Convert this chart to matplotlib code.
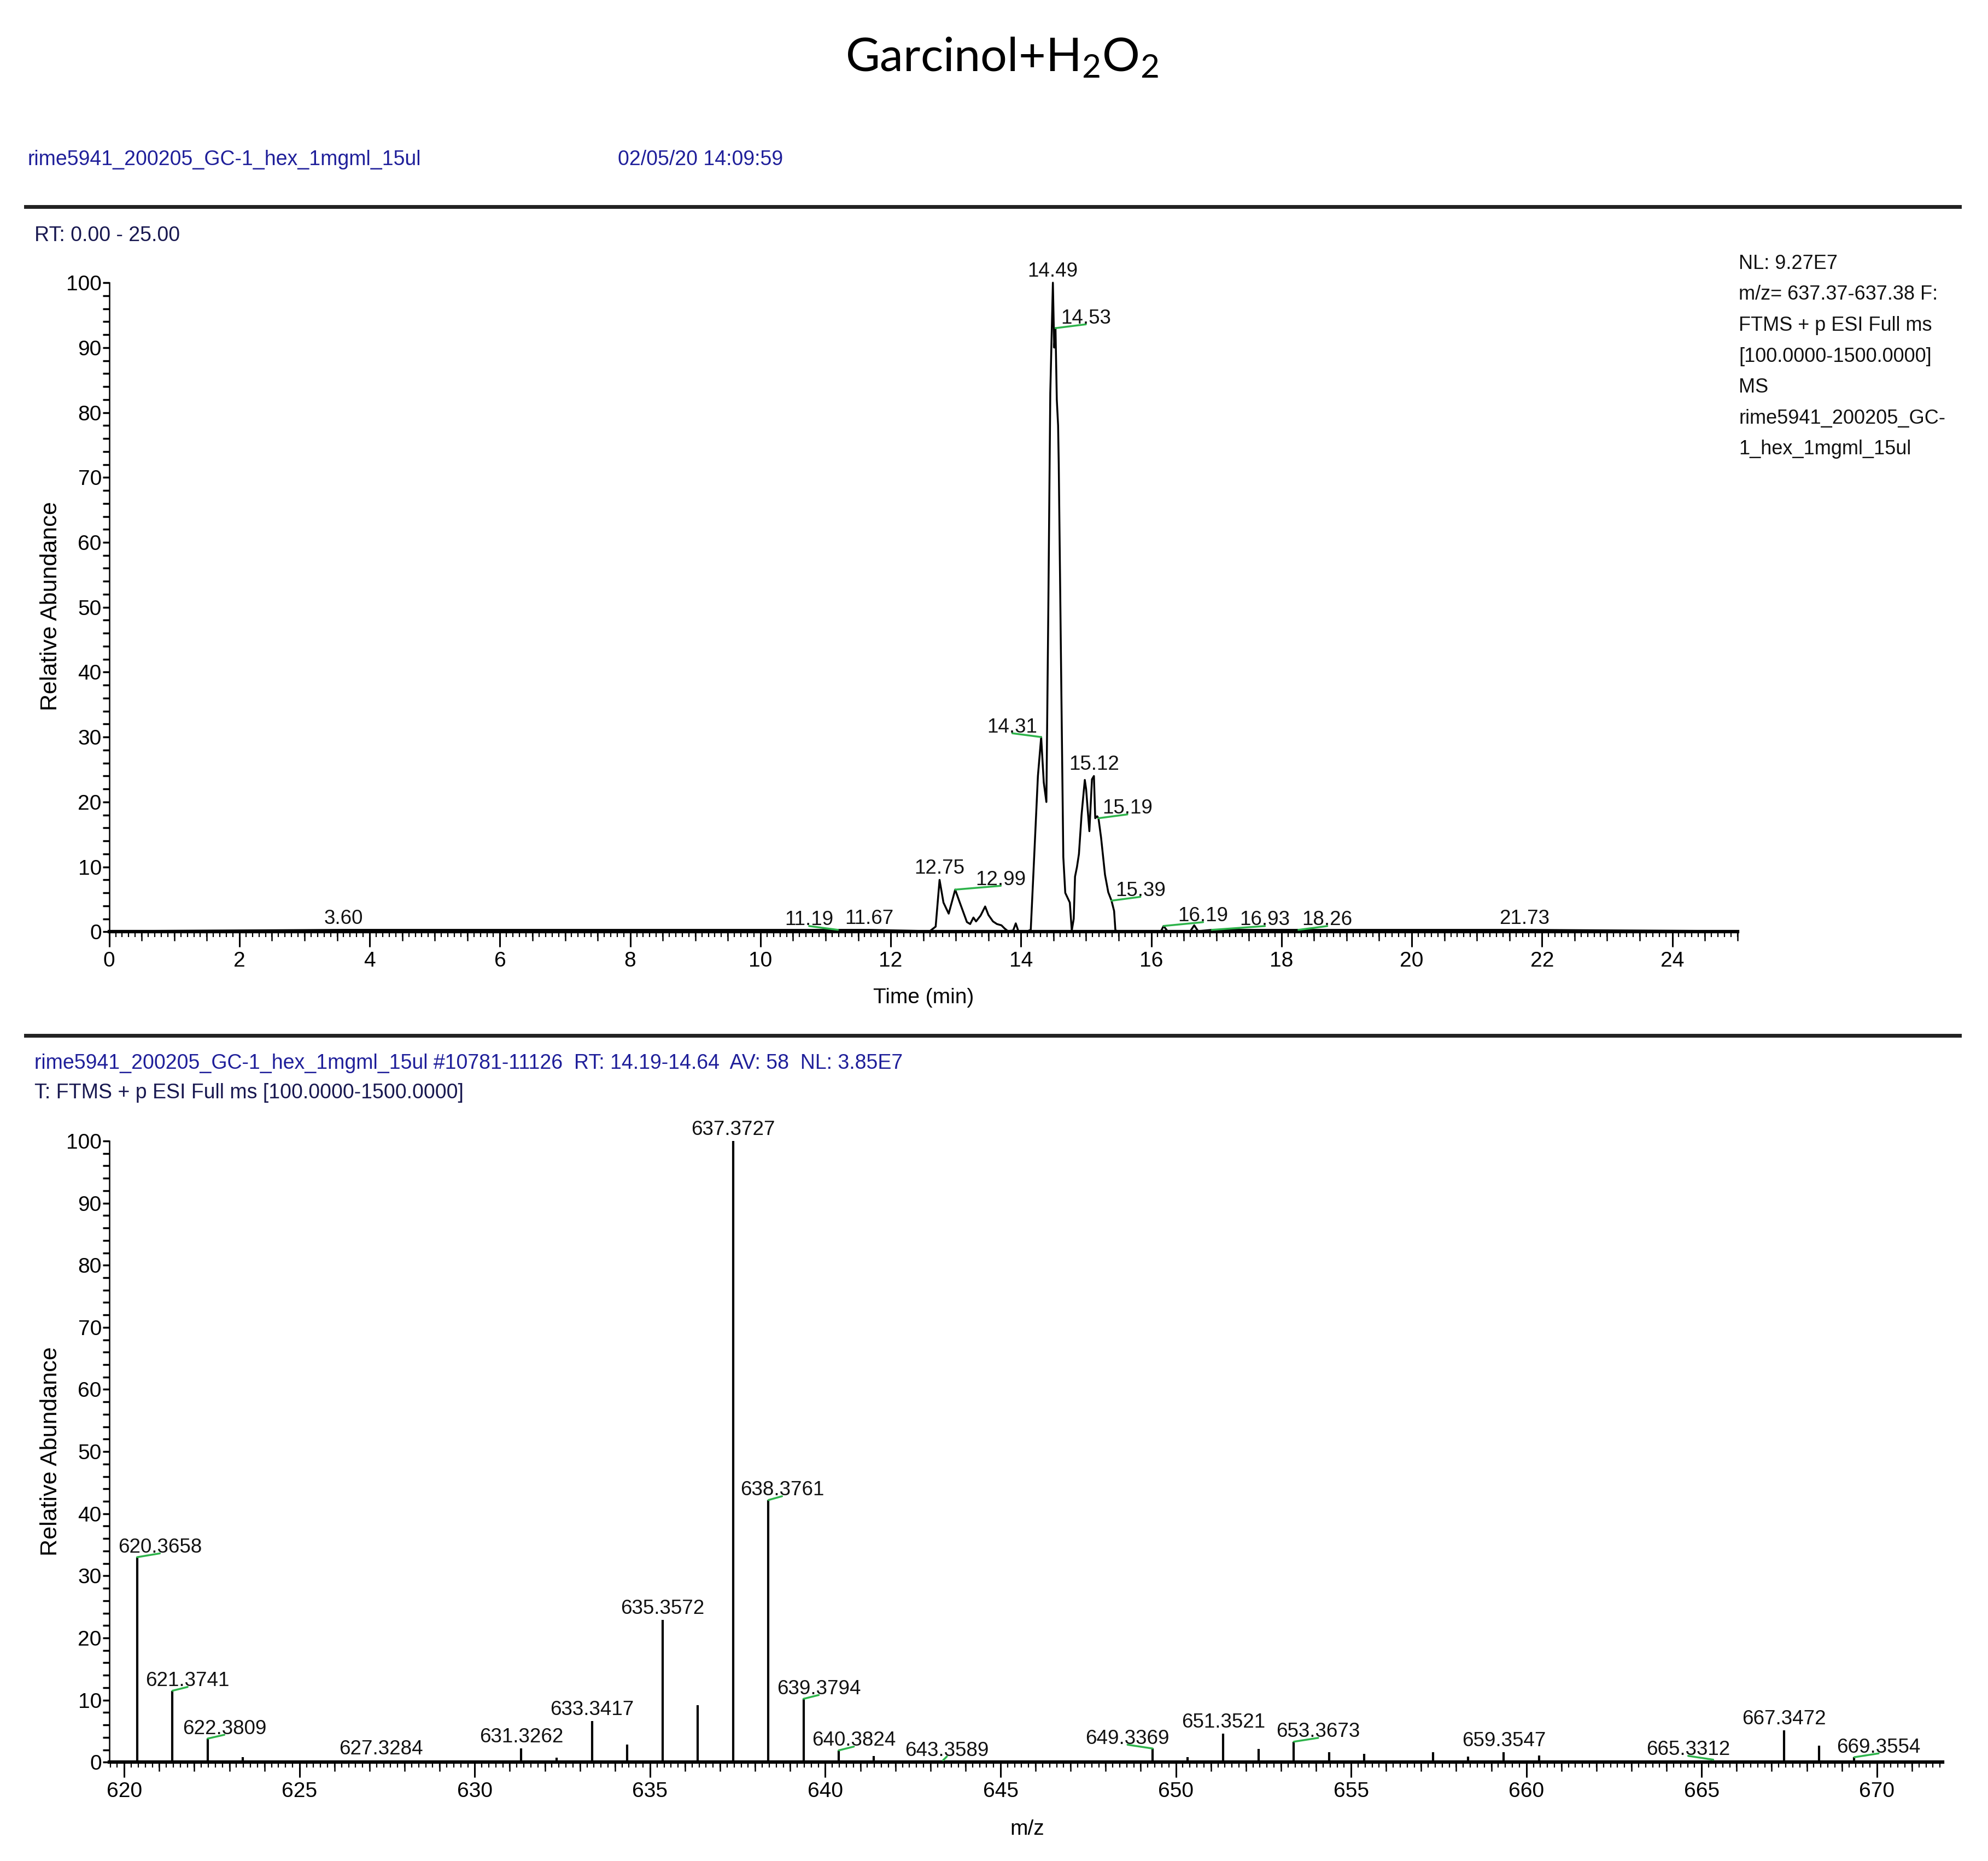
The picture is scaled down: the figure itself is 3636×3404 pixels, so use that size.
import matplotlib
matplotlib.use("Agg")
import matplotlib.pyplot as plt
from matplotlib.ticker import MultipleLocator, NullLocator

NARROW = ['Liberation Sans Narrow', 'Liberation Sans', 'DejaVu Sans']
plt.rcParams['font.family'] = NARROW
plt.rcParams['mathtext.fontset'] = 'custom'
plt.rcParams['mathtext.rm'] = 'Lato'
plt.rcParams['mathtext.it'] = 'Lato:italic'

BLUE = '#1f1f9a'
DARKBLUE = '#181850'
GREEN = '#2db34a'
FS_TICK = 28
FS_LAB = 26.5
FS_HEAD = 27

# chromatogram (RT in min, relative abundance)
tic_rt = [0.00, 3.60, 11.19, 11.67, 12.60, 12.69, 12.75, 12.81, 12.89, 12.95, 12.99, 13.05,
          13.17, 13.22, 13.27, 13.31, 13.38, 13.45, 13.50, 13.57, 13.63, 13.70, 13.75, 13.80,
          13.88, 13.92, 13.96, 14.10, 14.15, 14.19, 14.26, 14.31, 14.35, 14.39, 14.42, 14.45,
          14.49, 14.51, 14.53, 14.55, 14.57, 14.58, 14.62, 14.65, 14.68, 14.75, 14.78, 14.81,
          14.83, 14.86, 14.89, 14.93, 14.98, 15.00, 15.05, 15.09, 15.12, 15.14, 15.17, 15.19,
          15.23, 15.29, 15.34, 15.39, 15.43, 15.45, 15.50, 16.15, 16.19, 16.25, 16.60, 16.66,
          16.72, 16.93, 18.26, 21.73, 25.00]
tic_int = [0.1, 0.3, 0.3, 0.3, 0.1, 0.8, 8.0, 4.5, 2.8, 5.0, 6.5, 4.8,
           1.5, 1.2, 2.2, 1.6, 2.5, 3.9, 2.6, 1.6, 1.2, 1.0, 0.5, 0.1,
           0.2, 1.3, 0.1, 0.1, 0.3, 8.8, 24.0, 30.0, 23.0, 20.0, 50.0, 83.0,
           100.0, 90.0, 93.0, 82.0, 78.0, 72.0, 37.0, 11.5, 6.0, 4.5, 0.2, 2.0,
           8.5, 10.0, 12.0, 18.0, 23.4, 22.0, 15.5, 23.5, 24.0, 17.5, 17.8, 17.5,
           14.5, 8.8, 6.1, 4.8, 3.2, 0.2, 0.1, 0.1, 0.9, 0.1, 0.1, 1.0,
           0.1, 0.3, 0.3, 0.3, 0.1]

# labelled chromatogram peaks: rt, level, horizontal label offset (pt)
tic_lab_rt = [3.60, 11.19, 11.67, 12.75, 12.99, 14.31, 14.49, 14.53, 15.12, 15.19, 15.39,
              16.19, 16.93, 18.26, 21.73]
tic_lab_lvl = [0.3, 0.3, 0.3, 8.0, 6.5, 30.0, 100.0, 93.0, 24.0, 17.5, 4.8, 0.9, 0.3, 0.3, 0.3]
tic_lab_dx = [0, -38, 0, 0, 60, -38, 0, 40, 0, 38, 38, 52, 70, 38, 0]

# mass spectrum (m/z, relative abundance)
ms_mz = [620.3658, 621.3741, 622.3809, 623.383, 627.3284, 631.3262, 632.329, 633.3417,
         634.345, 635.3572, 636.361, 637.3727, 638.3761, 639.3794, 640.3824, 641.385,
         643.3589, 649.3369, 650.340, 651.3521, 652.355, 653.3673, 654.370, 655.372,
         657.340, 658.343, 659.3547, 660.357, 665.3312, 667.3472, 668.350, 669.3554]
ms_int = [33.0, 11.5, 3.8, 0.8, 0.3, 2.2, 0.7, 6.6,
          2.8, 22.9, 9.2, 100.0, 42.2, 10.2, 1.9, 1.0,
          0.3, 2.2, 0.8, 4.6, 2.1, 3.3, 1.6, 1.3,
          1.6, 0.9, 1.6, 1.1, 0.4, 5.1, 2.7, 0.8]
ms_lab = ['620.3658', '621.3741', '622.3809', '627.3284', '631.3262', '633.3417', '635.3572',
          '637.3727', '638.3761', '639.3794', '640.3824', '643.3589', '649.3369', '651.3521',
          '653.3673', '659.3547', '665.3312', '667.3472', '669.3554']
ms_lab_dx = [30, 20, 22, 0, 0, 0, 0, 0, 18, 20, 20, 5, -33, 0, 32, 0, -33, 0, 32]

right_note = ['NL: 9.27E7', 'm/z= 637.37-637.38 F:', 'FTMS + p ESI Full ms',
              '[100.0000-1500.0000]', 'MS', 'rime5941_200205_GC-', '1_hex_1mgml_15ul']


def style_axis(ax, major, medium, minor):
    for s in ['top', 'right']:
        ax.spines[s].set_visible(False)
    ax.spines['bottom'].set_linewidth(4.5)
    ax.spines['left'].set_linewidth(1.8)
    ax.set_ylim(0, 100)
    ax.yaxis.set_major_locator(MultipleLocator(10))
    ax.yaxis.set_minor_locator(MultipleLocator(2))
    ax.xaxis.set_major_locator(MultipleLocator(major))
    ax.xaxis.set_minor_locator(MultipleLocator(minor))
    ax.tick_params(axis='y', which='both', direction='out', length=9, width=2.5,
                   labelsize=FS_TICK, pad=1)
    ax.tick_params(axis='x', which='major', direction='out', length=20, width=2.2,
                   labelsize=FS_TICK, pad=6)
    ax.tick_params(axis='x', which='minor', direction='out', length=7, width=1.6)
    sec = ax.secondary_xaxis('bottom')
    sec.spines['bottom'].set_visible(False)
    sec.xaxis.set_major_locator(MultipleLocator(medium))
    sec.xaxis.set_minor_locator(NullLocator())
    sec.tick_params(axis='x', which='major', direction='out', length=12, width=1.8,
                    labelbottom=False)


def peak_label(ax, x, y, text, dx):
    if dx == 0:
        ax.annotate(text, (x, y), xytext=(0, 8), textcoords='offset points',
                    ha='center', va='baseline', fontsize=FS_LAB, color='#111111',
                    annotation_clip=False)
    else:
        ax.annotate('', (x, y), xytext=(dx, 5), textcoords='offset points',
                    arrowprops=dict(arrowstyle='-', color=GREEN, lw=2.5,
                                    shrinkA=0, shrinkB=0),
                    annotation_clip=False)
        ax.annotate(text, (x, y), xytext=(dx, 6), textcoords='offset points',
                    ha='center', va='baseline', fontsize=FS_LAB, color='#111111',
                    annotation_clip=False)


fig = plt.figure(figsize=(36.37, 34.04), dpi=100)

# ---- chromatogram ----
ax1 = fig.add_axes([0.0549, 0.4993, 0.8188, 0.3488])
ax1.plot(tic_rt, tic_int, color='black', lw=2.5, clip_on=False)
ax1.set_xlim(0, 25)
style_axis(ax1, 2, 0.5, 0.1)
for rt, lvl, dx in zip(tic_lab_rt, tic_lab_lvl, tic_lab_dx):
    peak_label(ax1, rt, lvl, f'{rt:.2f}', dx)

# ---- mass spectrum ----
ax2 = fig.add_axes([0.0549, 0.0531, 0.9221, 0.3338])
ax2.vlines(ms_mz, 0, ms_int, color='black', lw=3)
ax2.set_xlim(619.57, 671.88)
style_axis(ax2, 5, 1, 0.2)
for lab, dx in zip(ms_lab, ms_lab_dx):
    i = ms_mz.index(float(lab))
    peak_label(ax2, ms_mz[i], ms_int[i], lab, dx)

# ---- figure texts ----
fig.text(0.5038, 0.9619, r'Garcinol+H$_2$O$_2$', ha='center', va='baseline',
         fontsize=62, family=['Lato', 'DejaVu Sans'])
fig.text(0.0140, 0.9142, 'rime5941_200205_GC-1_hex_1mgml_15ul', va='center',
         fontsize=FS_HEAD, color=BLUE)
fig.text(0.3106, 0.9142, '02/05/20 14:09:59', va='center', fontsize=FS_HEAD, color=BLUE)
fig.lines.append(plt.Line2D([0.0128, 0.9853], [0.889, 0.889], transform=fig.transFigure,
                            color='#222222', lw=5))
fig.text(0.0172, 0.8733, 'RT: 0.00 - 25.00', va='center', fontsize=FS_HEAD, color=DARKBLUE)
for k, line in enumerate(right_note):
    fig.text(0.8744, 0.8583 - k * 0.01662, line, va='center', fontsize=26, color='#111111')
fig.text(0.0255, 0.6744, 'Relative Abundance', rotation=90, ha='center', va='center',
         fontsize=31, family=['Liberation Sans', 'DejaVu Sans'])
fig.text(0.4643, 0.4639, 'Time (min)', ha='center', va='center', fontsize=FS_TICK)

fig.lines.append(plt.Line2D([0.0128, 0.9853], [0.4435, 0.4435], transform=fig.transFigure,
                            color='#222222', lw=5))
fig.text(0.0172, 0.4285,
         'rime5941_200205_GC-1_hex_1mgml_15ul #10781-11126  RT: 14.19-14.64  AV: 58  NL: 3.85E7',
         va='center', fontsize=FS_HEAD, color=BLUE)
fig.text(0.0172, 0.4128, 'T: FTMS + p ESI Full ms [100.0000-1500.0000]', va='center',
         fontsize=FS_HEAD, color=DARKBLUE)
fig.text(0.0255, 0.2200, 'Relative Abundance', rotation=90, ha='center', va='center',
         fontsize=31, family=['Liberation Sans', 'DejaVu Sans'])
fig.text(0.5166, 0.0170, 'm/z', ha='center', va='center', fontsize=FS_TICK)

fig.savefig('out.png', dpi=100, facecolor='white')
